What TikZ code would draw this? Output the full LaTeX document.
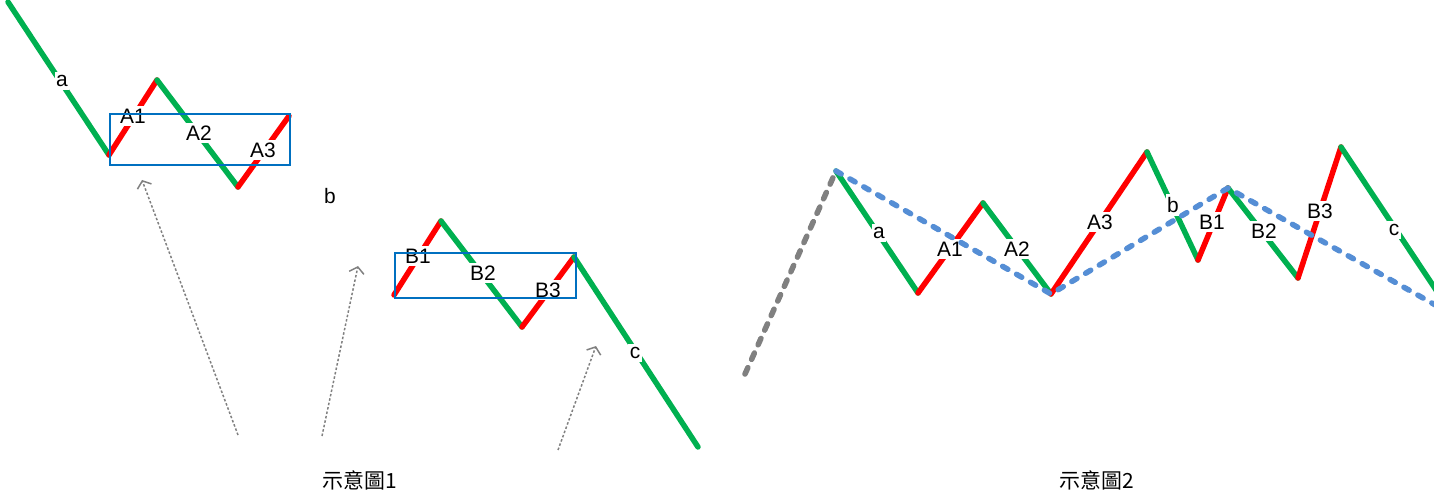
\documentclass[tikz,border=0pt]{standalone}
\usepackage{fontspec}
\setmainfont{Liberation Sans}
\newfontfamily\cjkfont{Noto Sans CJK TC}
\usetikzlibrary{arrows.meta}
\definecolor{wgreen}{RGB}{0,176,80}
\definecolor{wred}{RGB}{255,0,0}
\definecolor{boxblue}{RGB}{0,112,192}
\definecolor{dashblue}{RGB}{85,142,213}
\definecolor{wgray}{RGB}{128,128,128}
\tikzset{
  up/.style={draw=wred, line width=5.5bp, line cap=round},
  down/.style={draw=wgreen, line width=5.5bp, line cap=round},
  lbl/.style={fill=white, inner xsep=1.5bp, inner ysep=3bp, font=\fontsize{21}{24}\selectfont},
  zonebox/.style={draw=boxblue, line width=2bp},
  trend/.style={draw=dashblue, line width=5.5bp, line cap=round, dash pattern=on 6bp off 10bp},
  grayleg/.style={draw=wgray, line width=5.5bp, line cap=round, dash pattern=on 7bp off 9bp},
  pointer/.style={draw=wgray, line width=1.5bp, dash pattern=on 2.5bp off 2bp, -{Straight Barb[length=6bp,width=15bp]}},
  caption/.style={font=\cjkfont\fontsize{21}{24}\selectfont, inner sep=0pt}
}
\begin{document}
\begin{tikzpicture}[x=1bp,y=-1bp]
\useasboundingbox (0,0) rectangle (1434,495);
\clip (0,0) rectangle (1434,495);
% ---------- diagram 1 ----------
\coordinate (p0) at (8,2);
\coordinate (p1) at (109,155);
\coordinate (p2) at (157,80);
\coordinate (p3) at (238,187);
\coordinate (p4) at (289,116);
\coordinate (q0) at (394,295);
\coordinate (q1) at (441,221);
\coordinate (q2) at (522,327);
\coordinate (q3) at (574,257);
\coordinate (q4) at (698,447);
\draw[down] (p0) -- (p1);
\draw[up] (p1) -- (p2);
\draw[down] (p2) -- (p3);
\draw[up] (p3) -- (p4);
\draw[up] (q0) -- (q1);
\draw[down] (q1) -- (q2);
\draw[up] (q2) -- (q3);
\draw[down] (q3) -- (q4);
\node[lbl] (la) at (62,81) {a};
\node[lbl] (lA1) at (133,116) {A1};
\node[lbl] (lA2) at (199,133) {A2};
\node[lbl] (lA3) at (263,150) {A3};
\node[lbl] (lb) at (330,196) {b};
\node[lbl] (lB1) at (418,256) {B1};
\node[lbl] (lB2) at (483,273) {B2};
\node[lbl] (lB3) at (548,290) {B3};
\node[lbl] (lc) at (635,353) {c};
\node[zonebox, minimum width=180bp, minimum height=51bp, inner sep=0pt, anchor=north west] (boxA) at (109,113) {};
\node[zonebox, minimum width=181bp, minimum height=45bp, inner sep=0pt, anchor=north west] (boxB) at (394,252) {};
\coordinate (s1) at (238,435);
\coordinate (t1) at (142,180);
\coordinate (s2) at (322,436);
\coordinate (t2) at (358,266);
\coordinate (s3) at (558,450);
\coordinate (t3) at (596,346);
\draw[pointer] (s1) -- (t1);
\draw[pointer] (s2) -- (t2);
\draw[pointer] (s3) -- (t3);
\node[caption] (cap1) at (360,480) {示意圖1};
% ---------- diagram 2 ----------
\coordinate (r0) at (745,374);
\coordinate (r1) at (836,171);
\coordinate (r2) at (918,293);
\coordinate (r3) at (983,203);
\coordinate (r4) at (1051,294);
\coordinate (r5) at (1147,152);
\coordinate (r6) at (1198,260);
\coordinate (r7) at (1228,188);
\coordinate (r8) at (1298,278);
\coordinate (r9) at (1341,147);
\coordinate (r10) at (1446,305);
\coordinate (tend) at (1446,311);
\draw[grayleg] (r0) -- (r1);
\draw[down] (r1) -- (r2);
\draw[up] (r2) -- (r3);
\draw[down] (r3) -- (r4);
\draw[up] (r4) -- (r5);
\draw[down] (r5) -- (r6);
\draw[up] (r6) -- (r7);
\draw[down] (r7) -- (r8);
\draw[up] (r8) -- (r9);
\draw[down] (r9) -- (r10);
\node[lbl] (ma) at (879,233) {a};
\node[lbl] (mA1) at (950,249) {A1};
\node[lbl] (mA2) at (1017,249) {A2};
\node[lbl] (mA3) at (1100,222) {A3};
\node[lbl] (mb) at (1173,205) {b};
\node[lbl] (mB1) at (1212,222) {B1};
\node[lbl] (mB2) at (1264,231) {B2};
\node[lbl] (mB3) at (1320,211) {B3};
\node[lbl] (mc) at (1394,230) {c};
\draw[trend] (r1) -- (r4) -- (r7) -- (tend);
\node[caption] (cap2) at (1097,480) {示意圖2};
\end{tikzpicture}
\end{document}
